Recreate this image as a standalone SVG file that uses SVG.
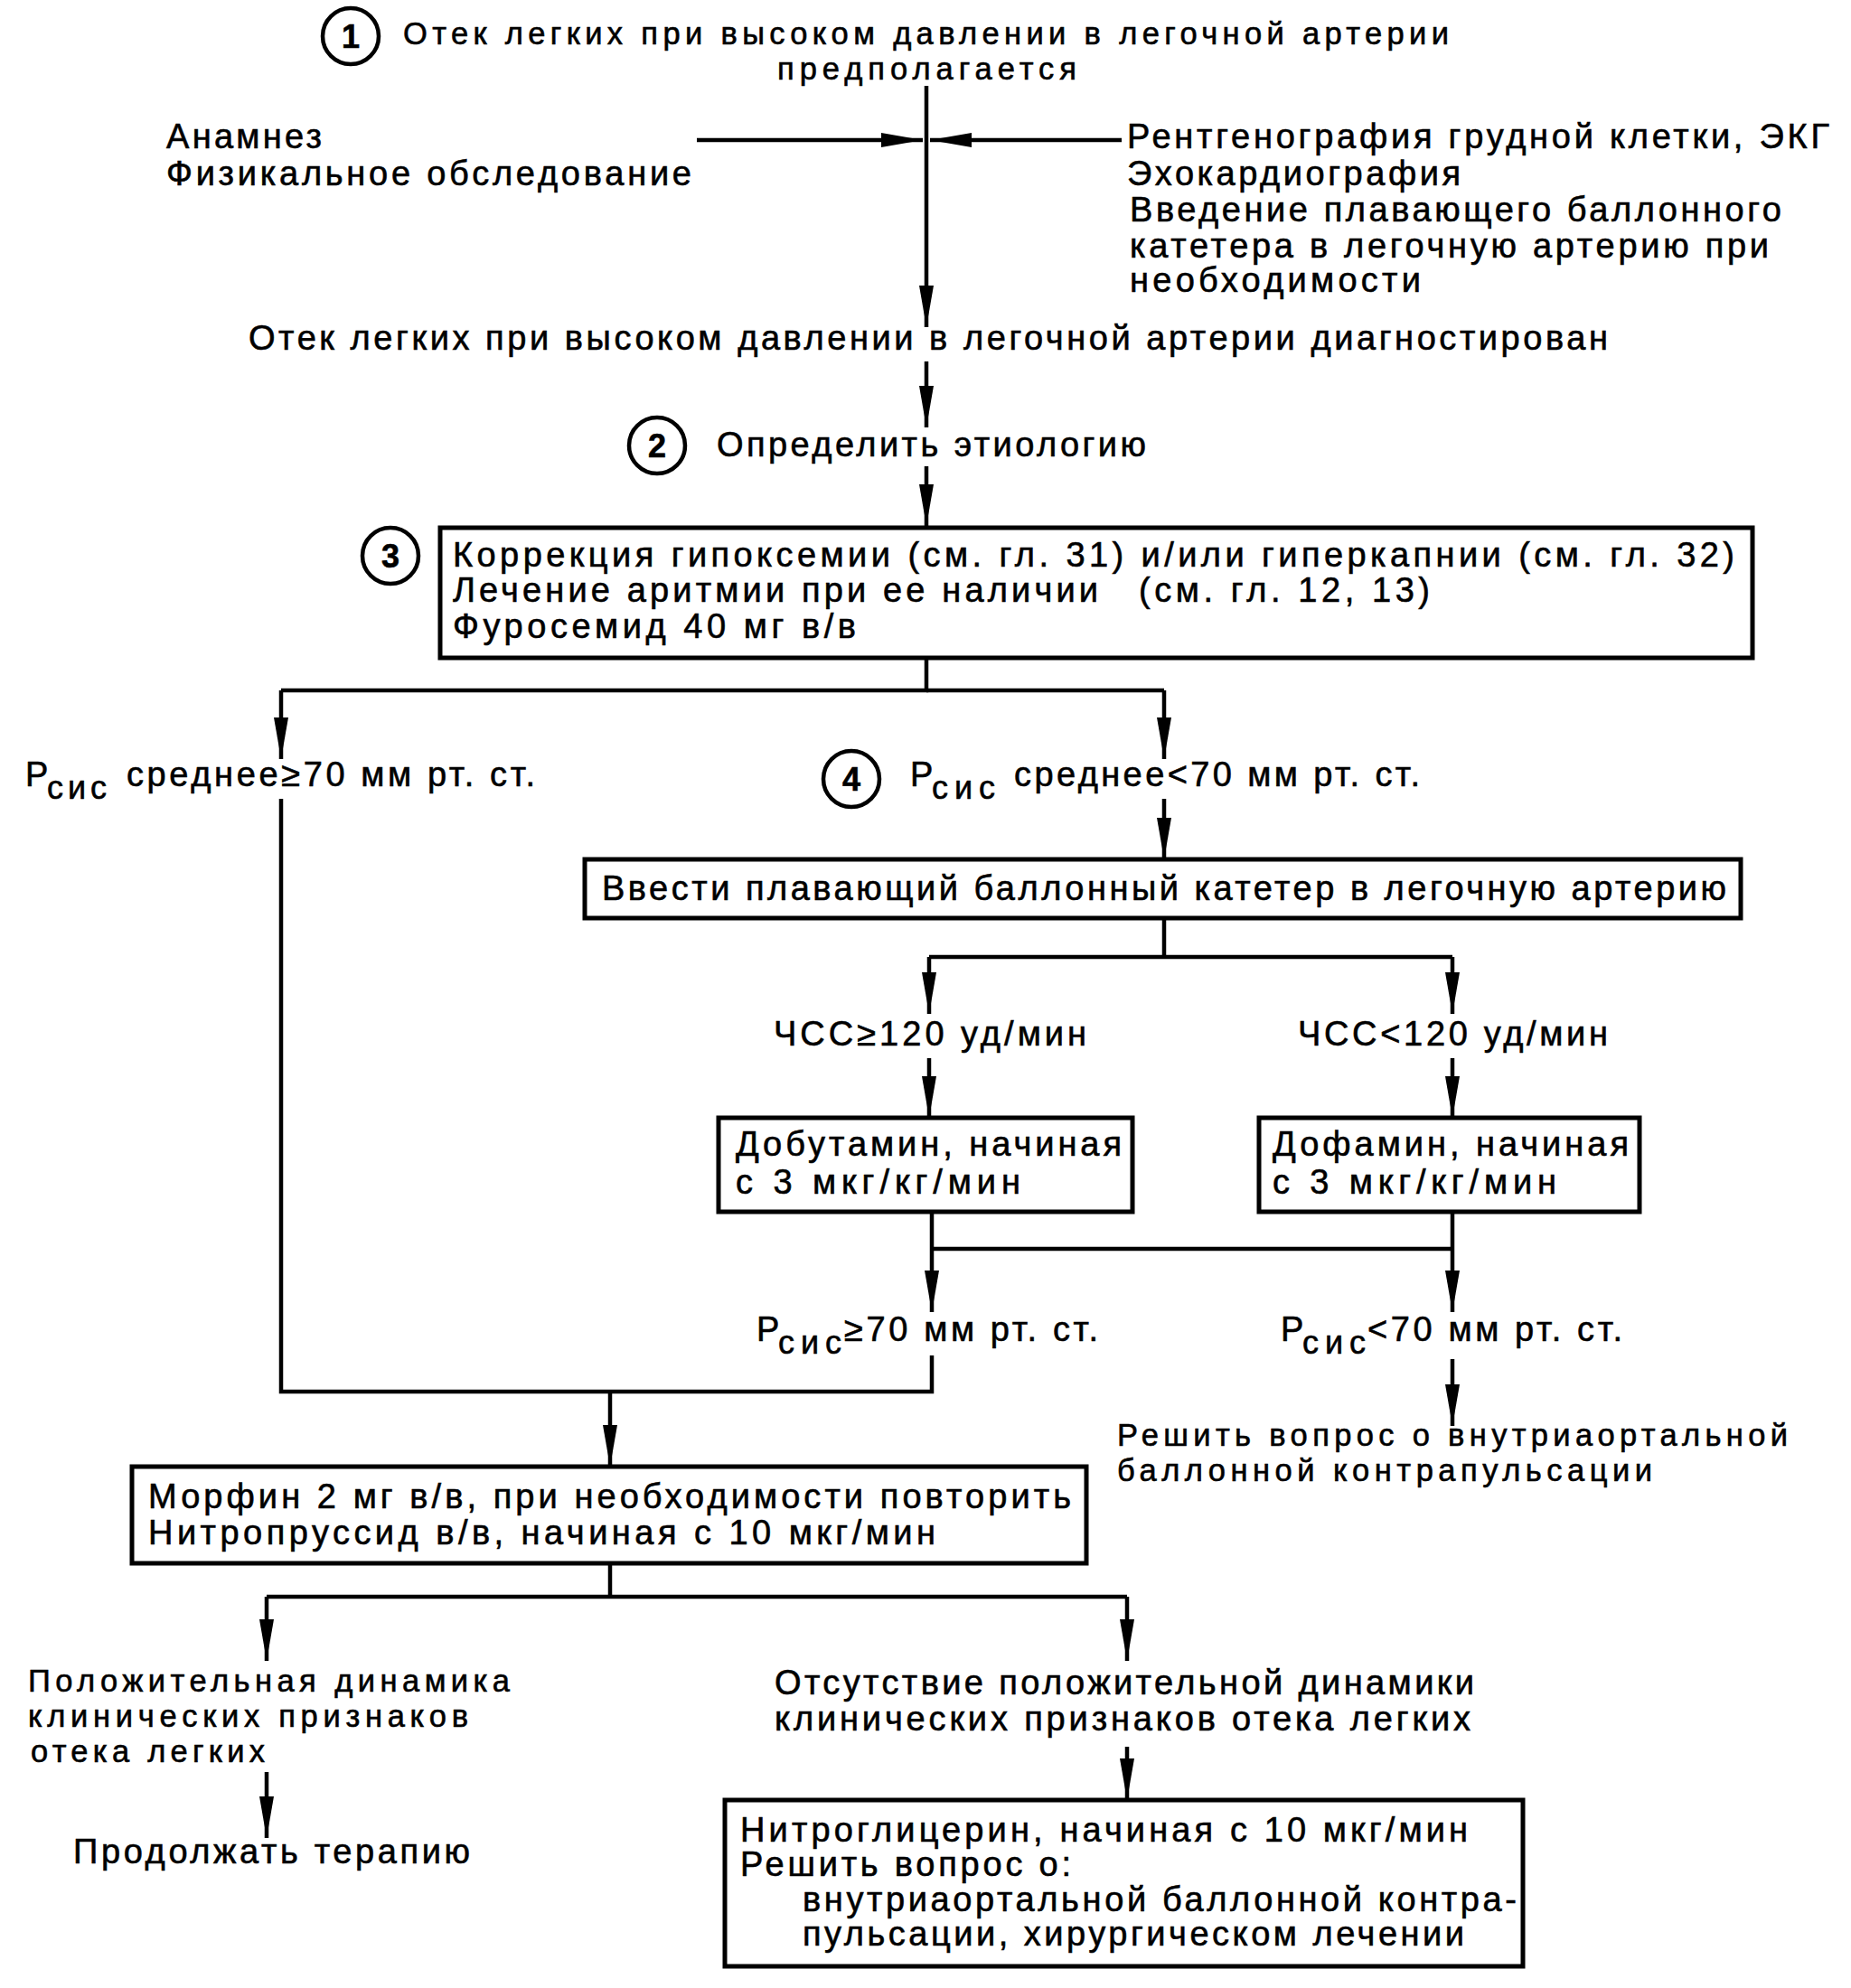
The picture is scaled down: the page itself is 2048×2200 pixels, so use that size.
<svg xmlns="http://www.w3.org/2000/svg" width="2048" height="2200" viewBox="0 0 2048 2200">
<style>
text{font-family:"Liberation Sans",Arial,sans-serif;font-size:38px;fill:#000;stroke:#000;stroke-width:0.6}
.sm{font-size:34.5px}
.sub{font-size:36px}
.num{font-size:36px;font-weight:bold;text-anchor:middle}
.box{fill:none;stroke:#000;stroke-width:5}
.circ{fill:#fff;stroke:#000;stroke-width:4.5}
.ln{fill:none;stroke:#000;stroke-width:4.5}
.ar{fill:none;stroke:#000;stroke-width:4.5;marker-end:url(#ah)}
</style>
<defs>
<marker id="ah" markerUnits="userSpaceOnUse" markerWidth="50" markerHeight="18" refX="46" refY="8" orient="auto">
<path d="M0,0 L46,8 L0,16 Z" fill="#000"/>
</marker>
</defs>
<rect width="2048" height="2200" fill="#fff"/>

<g id="connectors">
<line class="ar" x1="1025" y1="95" x2="1025" y2="362"/>
<line class="ar" x1="771" y1="155" x2="1021" y2="155"/>
<line class="ar" x1="1241" y1="155" x2="1029" y2="155"/>
<line class="ar" x1="1025" y1="400" x2="1025" y2="473"/>
<line class="ar" x1="1025" y1="516" x2="1025" y2="582"/>
<polyline class="ln" points="1025,728 1025,764 311,764"/>
<polyline class="ln" points="1025,764 1288,764"/>
<line class="ar" x1="311" y1="764" x2="311" y2="840"/>
<line class="ar" x1="1288" y1="764" x2="1288" y2="840"/>
<polyline class="ln" points="311,884 311,1540 1031,1540 1031,1500"/>
<line class="ar" x1="675" y1="1540" x2="675" y2="1623"/>
<line class="ar" x1="1288" y1="884" x2="1288" y2="951"/>
<line class="ln" x1="1288" y1="1016" x2="1288" y2="1059"/>
<line class="ln" x1="1028" y1="1059" x2="1607" y2="1059"/>
<line class="ar" x1="1028" y1="1059" x2="1028" y2="1122"/>
<line class="ar" x1="1607" y1="1059" x2="1607" y2="1122"/>
<line class="ar" x1="1028" y1="1171" x2="1028" y2="1237"/>
<line class="ar" x1="1607" y1="1171" x2="1607" y2="1237"/>
<line class="ar" x1="1031" y1="1341" x2="1031" y2="1452"/>
<line class="ar" x1="1607" y1="1341" x2="1607" y2="1452"/>
<line class="ln" x1="1031" y1="1382" x2="1607" y2="1382"/>
<line class="ar" x1="1607" y1="1504" x2="1607" y2="1578"/>
<polyline class="ln" points="675,1730 675,1767"/>
<line class="ln" x1="295" y1="1767" x2="1247" y2="1767"/>
<line class="ar" x1="295" y1="1767" x2="295" y2="1838"/>
<line class="ar" x1="1247" y1="1767" x2="1247" y2="1838"/>
<line class="ar" x1="295" y1="1961" x2="295" y2="2034"/>
<line class="ar" x1="1247" y1="1933" x2="1247" y2="1992"/>
</g>

<g id="n1">
<circle class="circ" cx="388" cy="40" r="31"/>
<text class="num" x="388" y="53">1</text>
<text class="sm" x="446" y="49" textLength="1157">Отек легких при высоком давлении в легочной артерии</text>
<text class="sm" x="860" y="88" textLength="331">предполагается</text>
</g>

<g id="n_left_info">
<text x="184" y="164" textLength="172">Анамнез</text>
<text x="184" y="205" textLength="581">Физикальное обследование</text>
</g>

<g id="n_right_info">
<text x="1247" y="164" textLength="777">Рентгенография грудной клетки, ЭКГ</text>
<text x="1247" y="205" textLength="369">Эхокардиография</text>
<text x="1250" y="245" textLength="721">Введение плавающего баллонного</text>
<text x="1250" y="285" textLength="707">катетера в легочную артерию при</text>
<text x="1250" y="323" textLength="322">необходимости</text>
</g>

<g id="n_diag">
<text x="275" y="387" textLength="1504">Отек легких при высоком давлении в легочной артерии диагностирован</text>
</g>

<g id="n2">
<circle class="circ" cx="727" cy="493" r="31"/>
<text class="num" x="727" y="506">2</text>
<text x="793" y="505" textLength="475">Определить этиологию</text>
</g>

<g id="n3">
<circle class="circ" cx="432" cy="615" r="31"/>
<text class="num" x="432" y="628">3</text>
<rect class="box" x="487" y="584" width="1452" height="144"/>
<text x="501" y="627" textLength="1418">Коррекция гипоксемии (см. гл. 31) и/или гиперкапнии (см. гл. 32)</text>
<text x="501" y="666" textLength="714">Лечение аритмии при ее наличии</text>
<text x="1260" y="666" textLength="322">(см. гл. 12, 13)</text>
<text x="501" y="706" textLength="446">Фуросемид 40 мг в/в</text>
</g>

<g id="n_psys_high">
<text x="28" y="870">P</text>
<text class="sub" x="52" y="884" textLength="66">сис</text>
<text x="140" y="870" textLength="452">среднее≥70 мм рт. ст.</text>
</g>

<g id="n4">
<circle class="circ" cx="942" cy="862" r="31"/>
<text class="num" x="942" y="875">4</text>
<text x="1007" y="870">P</text>
<text class="sub" x="1031" y="884" textLength="70">сис</text>
<text x="1122" y="870" textLength="449">среднее&lt;70 мм рт. ст.</text>
</g>

<g id="n_catheter">
<rect class="box" x="647" y="951" width="1279" height="65"/>
<text x="666" y="996" textLength="1244">Ввести плавающий баллонный катетер в легочную артерию</text>
</g>

<g id="n_hr_high">
<text x="856" y="1157" textLength="346">ЧСС≥120 уд/мин</text>
</g>
<g id="n_hr_low">
<text x="1436" y="1157" textLength="343">ЧСС&lt;120 уд/мин</text>
</g>

<g id="n_dobutamine">
<rect class="box" x="795" y="1237" width="458" height="104"/>
<text x="814" y="1279" textLength="427">Добутамин, начиная</text>
<text x="814" y="1321" textLength="315">с 3 мкг/кг/мин</text>
</g>

<g id="n_dopamine">
<rect class="box" x="1393" y="1237" width="421" height="104"/>
<text x="1408" y="1279" textLength="394">Дофамин, начиная</text>
<text x="1408" y="1321" textLength="314">с 3 мкг/кг/мин</text>
</g>

<g id="n_p_high">
<text x="837" y="1484">P</text>
<text class="sub" x="861" y="1498" textLength="70">сис</text>
<text x="934" y="1484" textLength="281">≥70 мм рт. ст.</text>
</g>

<g id="n_p_low">
<text x="1417" y="1484">P</text>
<text class="sub" x="1441" y="1498" textLength="70">сис</text>
<text x="1513" y="1484" textLength="282">&lt;70 мм рт. ст.</text>
</g>

<g id="n_iabp">
<text class="sm" x="1236" y="1600" textLength="742">Решить вопрос о внутриаортальной</text>
<text class="sm" x="1236" y="1639" textLength="592">баллонной контрапульсации</text>
</g>

<g id="n_morphine">
<rect class="box" x="146" y="1623" width="1056" height="107"/>
<text x="164" y="1669" textLength="1021">Морфин 2 мг в/в, при необходимости повторить</text>
<text x="164" y="1709" textLength="871">Нитропруссид в/в, начиная с 10 мкг/мин</text>
</g>

<g id="n_positive">
<text class="sm" x="31" y="1872" textLength="533">Положительная динамика</text>
<text class="sm" x="31" y="1911" textLength="487">клинических признаков</text>
<text class="sm" x="34" y="1950" textLength="259">отека легких</text>
</g>

<g id="n_continue">
<text x="81" y="2062" textLength="439">Продолжать терапию</text>
</g>

<g id="n_negative">
<text x="857" y="1875" textLength="774">Отсутствие положительной динамики</text>
<text x="857" y="1915" textLength="770">клинических признаков отека  легких</text>
</g>

<g id="n_nitro">
<rect class="box" x="802" y="1992" width="883" height="184"/>
<text x="819" y="2038" textLength="805">Нитроглицерин, начиная с 10 мкг/мин</text>
<text x="819" y="2076" textLength="366">Решить вопрос о:</text>
<text x="888" y="2115" textLength="790">внутриаортальной баллонной контра-</text>
<text x="888" y="2153" textLength="732">пульсации, хирургическом лечении</text>
</g>
</svg>
